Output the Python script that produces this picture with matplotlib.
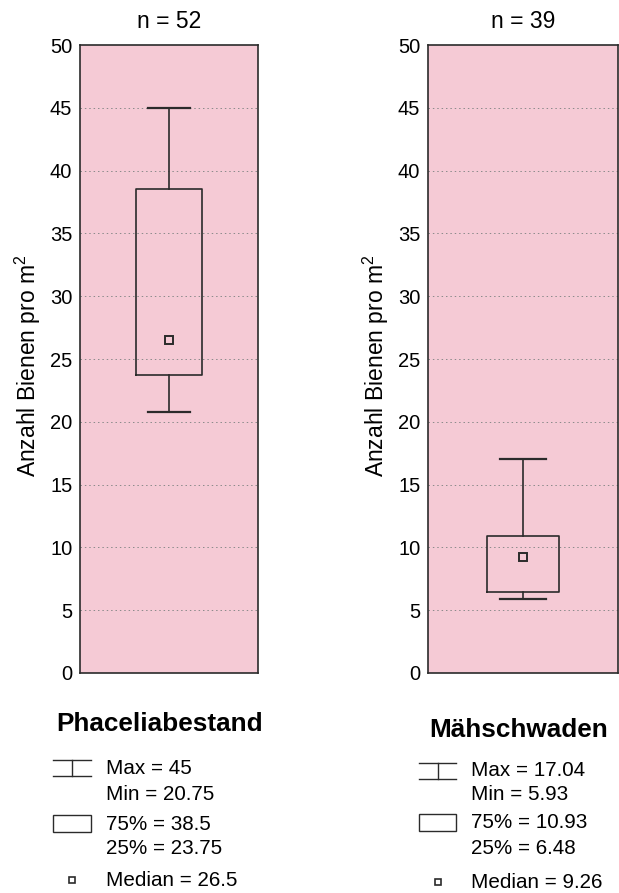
import matplotlib
matplotlib.use("Agg")
import matplotlib.pyplot as plt
from matplotlib.lines import Line2D
from matplotlib.patches import Rectangle

# data
sites = ["Phaceliabestand", "Mähschwaden"]
n_obs = [52, 39]
max_vals = [45, 17.04]
min_vals = [20.75, 5.93]
q75_vals = [38.5, 10.93]
q25_vals = [23.75, 6.48]
median_vals = [26.5, 9.26]
yticks = [0, 5, 10, 15, 20, 25, 30, 35, 40, 45, 50]

plt.rcParams['font.family'] = ['Liberation Sans', 'DejaVu Sans']
plt.rcParams['mathtext.fontset'] = 'custom'
plt.rcParams['mathtext.rm'] = 'Liberation Sans'
plt.rcParams['mathtext.it'] = 'Liberation Sans'

W, H = 619, 893
fig = plt.figure(figsize=(W / 100, H / 100), dpi=100)

pink = '#f5cad5'
edge = '#2b2b2b'


def fx(x):
    return x / W


def fy(y):
    return 1 - y / H


# axes boxes in pixels: left, right, top, bottom
ax_px = [(80, 258, 45, 673), (428, 618, 45, 673)]

for i, (l, r, t, b) in enumerate(ax_px):
    ax = fig.add_axes([fx(l), fy(b), (r - l) / W, (b - t) / H])
    ax.set_facecolor(pink)
    stats = [{
        'med': median_vals[i],
        'q1': q25_vals[i],
        'q3': q75_vals[i],
        'whislo': min_vals[i],
        'whishi': max_vals[i],
    }]
    ax.bxp(stats, positions=[0.5], widths=0.376, capwidths=0.24,
           showfliers=False, patch_artist=False,
           boxprops=dict(color=edge, lw=1.2),
           whiskerprops=dict(color=edge, lw=1.2),
           capprops=dict(color=edge, lw=1.6),
           medianprops=dict(linestyle='none'))
    ax.plot([0.5], [median_vals[i]], 's', ms=5.2, mfc='none', mec=edge, mew=1.4)
    ax.set_xlim(0, 1)
    ax.set_ylim(0, 50)
    ax.set_yticks(yticks)
    ax.set_xticks([])
    ax.tick_params(axis='y', length=0, pad=5.5, labelsize=14.5)
    for yv in yticks[1:-1]:
        ax.axhline(yv, color='#8a8a8a', lw=0.7, ls=(0, (1.5, 3)), zorder=0)
    for s in ax.spines.values():
        s.set_color(edge)
        s.set_linewidth(1.2)
    ax.set_title('n = %d' % n_obs[i], fontsize=16.5, pad=12)
    ax.set_ylabel('Anzahl Bienen pro m$^2$', fontsize=16.5, labelpad=6)
    ax.yaxis.set_label_coords(-0.21 * 178 / (r - l), 0.49)

# legend blocks below each plot
legend_px = [
    # heading x, heading y, symbol left, symbol right, text x, rows y
    dict(hx=56, hy=724, sl=53, sr=91, tx=106, ys=[768, 794, 824, 848, 880]),
    dict(hx=429, hy=730, sl=419, sr=456, tx=471, ys=[771, 794, 823, 849, 882]),
]

for i, lp in enumerate(legend_px):
    fig.text(fx(lp['hx']), fy(lp['hy']), sites[i], fontsize=18.8, fontweight='bold',
             ha='left', va='center')
    sl, sr = lp['sl'], lp['sr']
    mid = (sl + sr) / 2
    ys = lp['ys']
    # whisker symbol
    y0, y1 = ys[0] - 8, ys[0] + 8
    for seg in [([sl, sr], [y0, y0]), ([sl, sr], [y1, y1]), ([mid, mid], [y0, y1])]:
        fig.add_artist(Line2D([fx(v) for v in seg[0]], [fy(v) for v in seg[1]],
                              color=edge, lw=1.0))
    # box symbol
    by0, by1 = ys[2] - 9, ys[2] + 8
    fig.add_artist(Rectangle((fx(sl), fy(by1)), (sr - sl) / W, (by1 - by0) / H,
                             fill=False, ec=edge, lw=1.0))
    # median symbol
    fig.add_artist(Line2D([fx(mid)], [fy(ys[4])], marker='s', ms=5, mfc='none',
                          mec=edge, mew=1.2, ls='none'))
    labels = ['Max = %g' % max_vals[i], 'Min = %g' % min_vals[i],
              '75%% = %g' % q75_vals[i], '25%% = %g' % q25_vals[i],
              'Median = %g' % median_vals[i]]
    for lab, yy in zip(labels, ys):
        fig.text(fx(lp['tx']), fy(yy), lab, fontsize=14.9, ha='left', va='center')

fig.savefig('out.png', dpi=100)
